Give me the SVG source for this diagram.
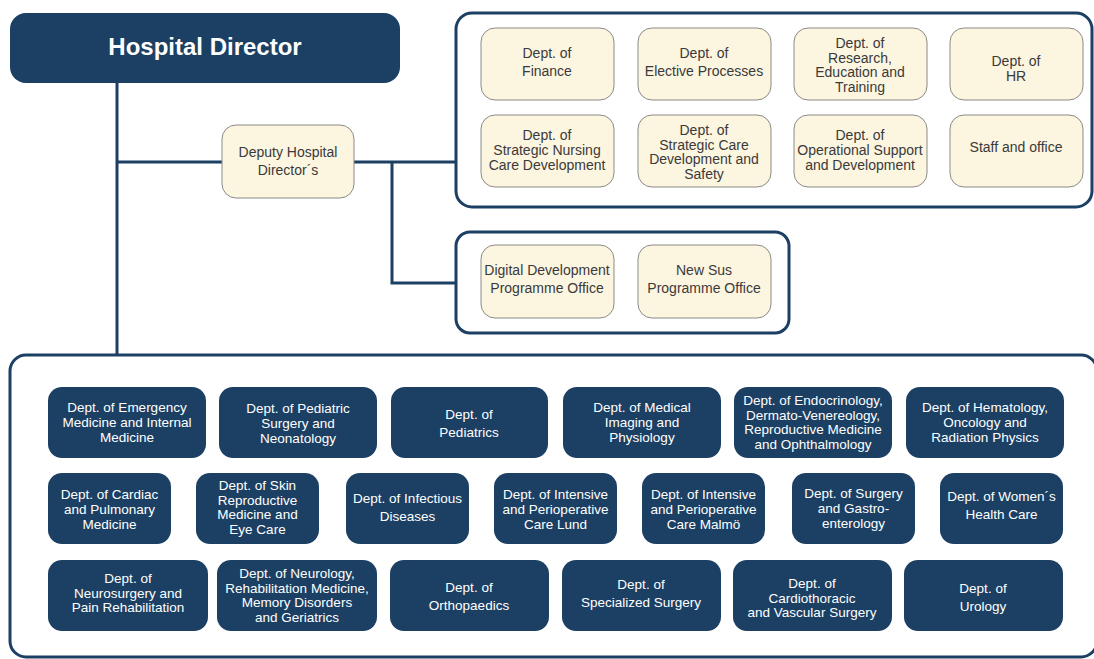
<svg xmlns="http://www.w3.org/2000/svg" width="1094" height="659" viewBox="0 0 1094 659">
<style>
.bg{fill:#ffffff}
.frame{fill:#ffffff;stroke:#1c3f64;stroke-width:3}
.dark{fill:#1c3f64}
.cream{fill:#fcf5e0;stroke:#8a8a86;stroke-width:1}
.conn{fill:none;stroke:#1c3f64;stroke-width:3}
text{font-family:"Liberation Sans Narrow","Liberation Sans",Arial,sans-serif;text-anchor:middle}
.ct{font-size:14px;fill:#3a3a3a}
.dt{font-size:13.5px;fill:#ffffff}
.ht{font-size:24px;font-weight:bold;fill:#ffffff}
</style>
<rect class="bg" x="0" y="0" width="1094" height="659"/>
<g id="containers">
<rect class="frame" x="456" y="13" width="636" height="194" rx="16"/>
<rect class="frame" x="456" y="232" width="333" height="101" rx="14"/>
<rect class="frame" x="10" y="355" width="1087" height="302" rx="16"/>
</g>
<g id="connectors">
<path class="conn" d="M117 83V355"/>
<path class="conn" d="M117 162H222"/>
<path class="conn" d="M354 162H456"/>
<path class="conn" d="M392 162V283H456"/>
</g>
<g id="hospital-director"><rect class="dark" x="10" y="13" width="390" height="70" rx="16"/><text class="ht" x="205" y="55">Hospital Director</text></g>
<g id="deputy"><rect class="cream" x="222" y="125" width="132" height="73" rx="14"/><text class="ct" x="288" y="157"><tspan x="288">Deputy Hospital</tspan><tspan x="288" dy="18">Director´s</tspan></text></g>
<g id="finance"><rect class="cream" x="481" y="28" width="133" height="72" rx="14"/><text class="ct" x="547" y="58"><tspan x="547">Dept. of</tspan><tspan x="547" dy="18">Finance</tspan></text></g>
<g id="elective"><rect class="cream" x="638" y="28" width="133" height="72" rx="14"/><text class="ct" x="704" y="58"><tspan x="704">Dept. of</tspan><tspan x="704" dy="18">Elective Processes</tspan></text></g>
<g id="research"><rect class="cream" x="794" y="28" width="133" height="72" rx="14"/><text class="ct" x="860" y="48"><tspan x="860">Dept. of</tspan><tspan x="860" dy="14.7">Research,</tspan><tspan x="860" dy="14.7">Education and</tspan><tspan x="860" dy="14.7">Training</tspan></text></g>
<g id="hr"><rect class="cream" x="950" y="28" width="133" height="72" rx="14"/><text class="ct" x="1016" y="66"><tspan x="1016">Dept. of</tspan><tspan x="1016" dy="15">HR</tspan></text></g>
<g id="nursing"><rect class="cream" x="481" y="115" width="133" height="72" rx="14"/><text class="ct" x="547" y="140"><tspan x="547">Dept. of</tspan><tspan x="547" dy="15">Strategic Nursing</tspan><tspan x="547" dy="15">Care Development</tspan></text></g>
<g id="strategic-care"><rect class="cream" x="638" y="115" width="133" height="72" rx="14"/><text class="ct" x="704" y="135"><tspan x="704">Dept. of</tspan><tspan x="704" dy="14.7">Strategic Care</tspan><tspan x="704" dy="14.7">Development and</tspan><tspan x="704" dy="14.7">Safety</tspan></text></g>
<g id="operational"><rect class="cream" x="794" y="115" width="133" height="72" rx="14"/><text class="ct" x="860" y="140"><tspan x="860">Dept. of</tspan><tspan x="860" dy="15">Operational Support</tspan><tspan x="860" dy="15">and Development</tspan></text></g>
<g id="staff"><rect class="cream" x="950" y="115" width="133" height="72" rx="14"/><text class="ct" x="1016" y="152">Staff and office</text></g>
<g id="digital"><rect class="cream" x="481" y="245" width="133" height="73" rx="14"/><text class="ct" x="547" y="275"><tspan x="547">Digital Development</tspan><tspan x="547" dy="18">Programme Office</tspan></text></g>
<g id="newsus"><rect class="cream" x="638" y="245" width="133" height="73" rx="14"/><text class="ct" x="704" y="275"><tspan x="704">New Sus</tspan><tspan x="704" dy="18">Programme Office</tspan></text></g>
<g id="emergency"><rect class="dark" x="48" y="387" width="158" height="71" rx="14"/><text class="dt" x="127" y="412"><tspan x="127">Dept. of Emergency</tspan><tspan x="127" dy="15">Medicine and Internal</tspan><tspan x="127" dy="15">Medicine</tspan></text></g>
<g id="pediatric-surgery"><rect class="dark" x="219" y="387" width="158" height="71" rx="14"/><text class="dt" x="298" y="413"><tspan x="298">Dept. of Pediatric</tspan><tspan x="298" dy="15">Surgery and</tspan><tspan x="298" dy="15">Neonatology</tspan></text></g>
<g id="pediatrics"><rect class="dark" x="391" y="387" width="157" height="71" rx="14"/><text class="dt" x="469" y="419"><tspan x="469">Dept. of</tspan><tspan x="469" dy="18">Pediatrics</tspan></text></g>
<g id="imaging"><rect class="dark" x="563" y="387" width="158" height="71" rx="14"/><text class="dt" x="642" y="412"><tspan x="642">Dept. of Medical</tspan><tspan x="642" dy="15">Imaging and</tspan><tspan x="642" dy="15">Physiology</tspan></text></g>
<g id="endocrinology"><rect class="dark" x="734" y="387" width="158" height="71" rx="14"/><text class="dt" x="813" y="405"><tspan x="813">Dept. of Endocrinology,</tspan><tspan x="813" dy="14.6">Dermato-Venereology,</tspan><tspan x="813" dy="14.6">Reproductive Medicine</tspan><tspan x="813" dy="14.6">and Ophthalmology</tspan></text></g>
<g id="hematology"><rect class="dark" x="906" y="387" width="158" height="71" rx="14"/><text class="dt" x="985" y="412"><tspan x="985">Dept. of Hematology,</tspan><tspan x="985" dy="15">Oncology and</tspan><tspan x="985" dy="15">Radiation Physics</tspan></text></g>
<g id="cardiac"><rect class="dark" x="48" y="473" width="123" height="71" rx="14"/><text class="dt" x="109.5" y="499"><tspan x="109.5">Dept. of Cardiac</tspan><tspan x="109.5" dy="15">and Pulmonary</tspan><tspan x="109.5" dy="15">Medicine</tspan></text></g>
<g id="skin"><rect class="dark" x="196" y="473" width="123" height="71" rx="14"/><text class="dt" x="257.5" y="490"><tspan x="257.5">Dept. of Skin</tspan><tspan x="257.5" dy="14.6">Reproductive</tspan><tspan x="257.5" dy="14.6">Medicine and</tspan><tspan x="257.5" dy="14.6">Eye Care</tspan></text></g>
<g id="infectious"><rect class="dark" x="346" y="473" width="123" height="71" rx="14"/><text class="dt" x="407.5" y="503"><tspan x="407.5">Dept. of Infectious</tspan><tspan x="407.5" dy="18">Diseases</tspan></text></g>
<g id="intensive-lund"><rect class="dark" x="494" y="473" width="123" height="71" rx="14"/><text class="dt" x="555.5" y="499"><tspan x="555.5">Dept. of Intensive</tspan><tspan x="555.5" dy="15">and Perioperative</tspan><tspan x="555.5" dy="15">Care Lund</tspan></text></g>
<g id="intensive-malmo"><rect class="dark" x="642" y="473" width="123" height="71" rx="14"/><text class="dt" x="703.5" y="499"><tspan x="703.5">Dept. of Intensive</tspan><tspan x="703.5" dy="15">and Perioperative</tspan><tspan x="703.5" dy="15">Care Malmö</tspan></text></g>
<g id="surgery"><rect class="dark" x="792" y="473" width="123" height="71" rx="14"/><text class="dt" x="853.5" y="498"><tspan x="853.5">Dept. of Surgery</tspan><tspan x="853.5" dy="15">and Gastro-</tspan><tspan x="853.5" dy="15">enterology</tspan></text></g>
<g id="womens"><rect class="dark" x="940" y="473" width="123" height="71" rx="14"/><text class="dt" x="1001.5" y="501"><tspan x="1001.5">Dept. of Women´s</tspan><tspan x="1001.5" dy="18">Health Care</tspan></text></g>
<g id="neurosurgery"><rect class="dark" x="48" y="560" width="160" height="71" rx="14"/><text class="dt" x="128" y="583"><tspan x="128">Dept. of</tspan><tspan x="128" dy="14.6">Neurosurgery and</tspan><tspan x="128" dy="14.6">Pain Rehabilitation</tspan></text></g>
<g id="neurology"><rect class="dark" x="217" y="560" width="160" height="71" rx="14"/><text class="dt" x="297" y="578"><tspan x="297">Dept. of Neurology,</tspan><tspan x="297" dy="14.6">Rehabilitation Medicine,</tspan><tspan x="297" dy="14.6">Memory Disorders</tspan><tspan x="297" dy="14.6">and Geriatrics</tspan></text></g>
<g id="orthopaedics"><rect class="dark" x="390" y="560" width="159" height="71" rx="14"/><text class="dt" x="469" y="592"><tspan x="469">Dept. of</tspan><tspan x="469" dy="18">Orthopaedics</tspan></text></g>
<g id="specialized"><rect class="dark" x="562" y="560" width="159" height="71" rx="14"/><text class="dt" x="641" y="589"><tspan x="641">Dept. of</tspan><tspan x="641" dy="18">Specialized Surgery</tspan></text></g>
<g id="cardiothoracic"><rect class="dark" x="733" y="560" width="159" height="71" rx="14"/><text class="dt" x="812" y="588"><tspan x="812">Dept. of</tspan><tspan x="812" dy="14.6">Cardiothoracic</tspan><tspan x="812" dy="14.6">and Vascular Surgery</tspan></text></g>
<g id="urology"><rect class="dark" x="904" y="560" width="159" height="71" rx="14"/><text class="dt" x="983" y="593"><tspan x="983">Dept. of</tspan><tspan x="983" dy="18">Urology</tspan></text></g>
</svg>
